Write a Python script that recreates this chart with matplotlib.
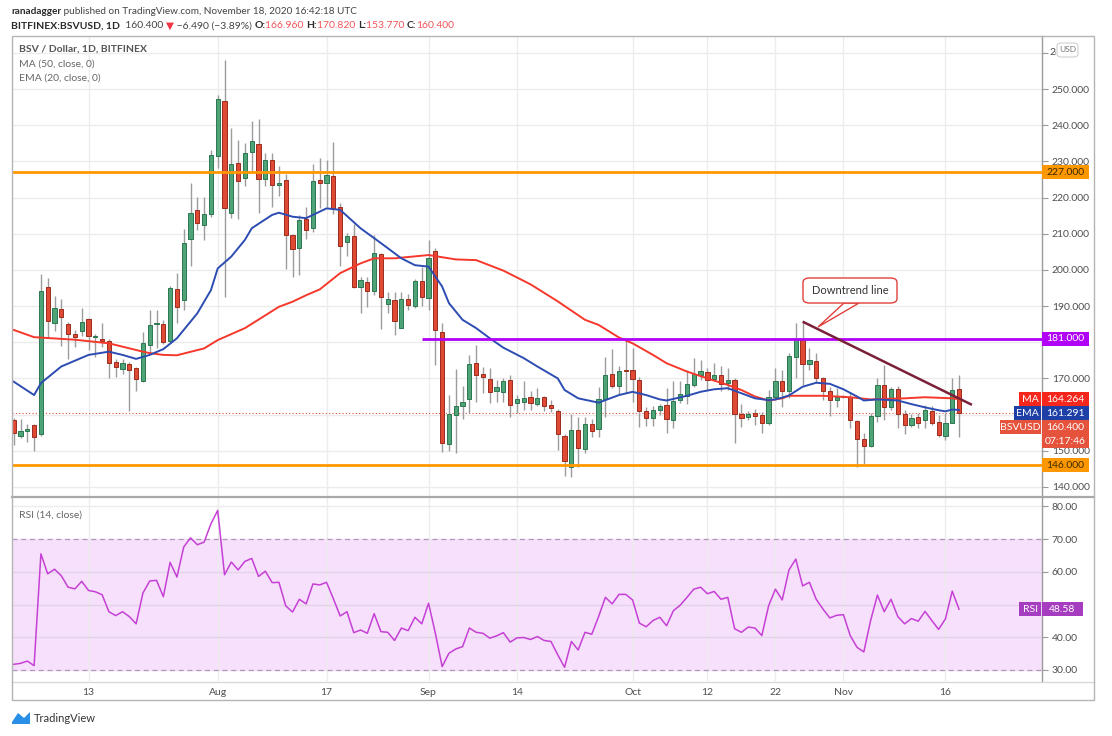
import numpy as np
import pandas as pd
import matplotlib
matplotlib.use("Agg")
import matplotlib.pyplot as plt
from matplotlib.patches import Rectangle, FancyBboxPatch, Polygon
from matplotlib.lines import Line2D
from matplotlib.transforms import Bbox

plt.rcParams['font.family'] = ['Lato', 'DejaVu Sans']

# ---------------- data ----------------
start_date = '2020-07-02'
opens = [158.5,154.2,155.6,157.1,154.6,195.2,185.2,189.1,185.1,182.2,
         183.0,186.4,181.4,181.0,180.4,174.5,172.5,174.0,172.9,169.3,
         179.2,185.0,185.1,180.4,194.6,191.7,208.5,216.5,212.4,215.4,
         231.5,246.8,215.8,229.6,225.5,232.6,234.7,225.0,230.4,223.5,
         224.9,209.6,206.0,214.0,211.5,224.9,224.0,226.0,217.3,207.6,
         209.5,195.4,196.7,194.2,204.3,190.5,191.7,184.0,192.0,190.1,
         196.9,192.3,205.2,182.9,151.9,159.9,162.5,164.2,174.2,171.1,
         169.9,166.6,166.2,169.6,163.1,163.6,164.8,162.9,164.8,162.7,
         161.1,154.1,145.6,155.8,150.4,157.3,155.9,164.2,171.2,167.9,
         172.1,172.3,169.6,161.1,159.0,161.3,162.7,158.5,163.9,165.2,
         168.2,171.0,171.9,169.8,171.0,168.7,169.6,160.2,159.4,160.4,
         159.9,157.6,165.0,169.4,166.6,175.8,180.9,173.9,174.9,170.0,
         166.6,163.9,164.8,165.0,158.3,153.2,151.4,159.7,168.2,162.0,
         167.0,160.2,157.1,159.4,158.5,161.0,157.9,154.1,157.8,166.96]
highs = [159.0,158.7,157.4,157.5,198.8,197.7,192.8,192.0,185.5,183.4,
         189.4,186.8,182.3,185.2,181.0,175.3,175.5,174.5,173.2,182.8,
         189.0,189.0,186.2,195.5,199.2,211.2,224.0,220.2,220.2,233.1,
         248.3,258.0,239.2,236.0,235.1,241.2,241.6,232.2,232.2,228.7,
         226.5,210.0,215.2,217.5,229.4,231.0,230.5,235.4,218.6,210.2,
         212.7,198.0,198.1,209.7,204.8,194.0,194.0,194.0,193.3,197.5,
         200.9,208.3,206.0,185.2,165.4,172.5,167.8,176.5,179.2,173.1,
         172.8,169.6,170.2,171.0,165.4,169.4,166.6,167.3,165.1,164.1,
         161.5,154.5,160.1,159.4,159.2,158.8,167.7,176.0,178.1,173.5,
         180.8,178.3,170.5,162.0,162.5,163.0,167.3,169.3,169.2,172.3,
         175.7,175.1,172.8,174.2,173.4,172.8,170.0,163.0,161.0,161.6,
         160.8,166.8,172.8,172.2,177.0,185.2,185.7,178.3,177.1,170.5,
         167.6,167.3,165.5,166.2,158.5,155.0,160.4,170.0,173.7,167.7,
         168.0,161.3,160.2,160.4,162.7,162.4,159.9,160.5,170.0,170.82]
lows = [151.6,153.6,152.5,150.0,154.0,181.4,183.2,179.0,175.3,178.6,
        181.7,177.9,176.0,178.6,170.0,170.5,171.3,161.1,166.5,169.0,
        176.8,178.5,179.5,179.8,185.4,188.9,201.1,211.0,208.3,214.5,
        228.1,192.4,214.3,214.1,223.1,226.8,215.8,223.1,217.3,220.3,
        200.2,197.9,198.6,208.5,210.5,217.0,217.5,215.5,201.1,203.8,
        194.9,188.0,189.8,193.1,183.6,188.0,182.0,183.9,188.9,189.5,
        190.1,188.9,173.6,149.8,150.0,149.5,158.7,160.5,163.6,165.9,
        163.3,163.6,163.6,159.4,160.4,161.3,161.3,162.5,161.1,160.8,
        150.2,143.0,142.8,145.6,149.5,153.9,153.9,159.4,167.3,165.5,
        165.9,163.6,156.5,156.9,156.9,160.0,154.8,156.2,163.2,162.9,
        167.6,169.6,166.8,169.3,166.6,166.8,152.2,156.7,158.5,157.1,
        155.0,157.0,164.0,162.2,164.5,170.0,168.2,172.3,169.1,163.9,
        159.6,162.0,164.5,156.2,145.6,146.4,151.0,158.0,158.5,161.3,
        156.2,154.6,156.5,156.2,156.2,157.1,153.9,153.0,157.6,153.77]
closes = [155.0,155.5,155.9,153.7,194.2,185.9,189.4,186.9,182.3,181.5,
          185.6,181.7,181.7,180.4,174.4,173.1,174.2,172.3,169.9,179.7,
          184.7,185.3,180.0,194.9,189.8,207.3,215.7,212.9,215.4,231.8,
          247.2,217.0,229.3,224.7,232.2,235.6,225.0,230.4,223.5,224.1,
          209.7,205.7,213.8,211.0,224.7,224.0,226.2,216.7,206.6,209.5,
          195.4,197.2,194.2,204.6,192.6,191.9,185.9,192.0,190.3,196.9,
          192.6,203.4,183.4,152.2,160.1,162.4,163.4,174.0,171.0,170.3,
          166.2,167.6,169.3,162.7,164.3,164.5,163.3,164.5,162.5,161.9,
          154.6,147.3,155.8,150.7,157.3,155.5,164.3,171.0,168.0,172.1,
          172.0,169.8,161.0,159.0,161.3,162.4,158.7,163.8,165.6,168.4,
          171.2,172.1,169.6,171.0,168.5,169.6,160.1,159.0,160.2,159.6,
          157.6,164.8,169.4,166.6,176.3,180.9,173.9,175.1,170.2,166.6,
          163.9,164.8,165.0,158.5,153.3,151.4,159.7,168.2,162.2,167.0,
          160.2,157.1,159.0,157.8,161.3,157.8,154.4,157.8,166.89,160.4]

ema_days = [0,3,4,7,11,14,16,18,20,22,24,27,29,30,32,34,35,38,39,41,43,46,48,51,54,57,59,61,63,64,
            66,68,70,72,75,77,80,81,83,86,87,89,91,93,95,96,99,101,103,105,107,109,111,112,113,114,116,118,120,122,
            124,125,127,130,132,134,136,137,138,139]
ema_vals = [169.1,165.4,168.7,173.3,176.5,177.4,176.5,175.4,176.5,178.1,181.1,188.0,194.4,200.4,203.7,208.3,211.5,215.2,215.8,214.7,
            214.3,217.0,216.6,211.5,207.4,203.2,201.3,200.9,195.4,190.8,186.2,183.9,181.1,178.5,175.6,173.3,170.0,166.8,164.5,163.3,
            164.0,165.4,166.3,165.4,164.2,163.9,165.2,166.3,167.0,167.3,165.9,164.5,164.0,164.2,164.7,165.3,167.7,168.8,168.5,167.0,
            165.0,163.9,164.2,163.9,162.9,162.0,161.2,160.9,161.4,161.291]
ma_days = [0,3,9,14,19,20,22,24,28,30,34,39,41,43,45,48,51,53,56,61,62,65,68,72,76,80,84,86,89,91,
           94,96,99,102,105,107,109,111,113,114,119,123,126,131,134,138,139]
ma_vals = [183.4,181.4,180.7,179.7,177.4,177.0,176.5,176.4,178.3,180.6,183.9,189.8,191.2,193.0,194.6,199.1,201.8,203.2,203.2,204.1,
           203.8,202.9,202.7,199.8,196.0,191.3,186.2,184.8,181.3,179.7,176.5,174.2,171.9,170.0,168.2,166.8,165.0,163.9,164.5,165.2,
           165.2,164.8,164.2,164.5,164.8,164.5,164.264]
rsi_vals = [31.7,32.0,32.7,31.3,65.5,59.4,60.8,58.8,55.3,54.8,
            57.1,54.3,53.9,53.0,47.8,46.6,47.8,46.3,44.1,53.5,
            57.2,57.4,52.4,62.9,58.4,67.6,70.4,68.3,69.1,74.7,
            78.8,59.1,63.0,60.6,63.2,64.1,58.6,60.2,56.7,56.8,
            49.6,47.7,51.6,50.2,56.3,56.0,56.8,51.8,46.5,47.8,
            41.4,42.2,41.2,47.2,41.7,41.5,39.0,42.8,42.0,46.1,
            44.1,50.4,41.2,31.0,35.1,36.4,37.1,42.8,41.5,41.2,
            39.7,40.4,41.4,38.5,39.8,39.9,39.3,40.2,39.0,38.7,
            34.6,30.8,38.7,36.1,41.5,40.9,46.3,52.2,50.2,53.1,
            53.1,51.4,44.3,43.2,45.1,46.1,43.5,48.1,49.8,52.2,
            54.7,55.3,53.3,54.0,51.6,52.2,42.6,41.5,43.1,42.8,
            40.5,49.6,54.7,51.4,60.6,63.9,55.7,56.8,51.6,48.6,
            45.9,46.7,46.9,40.5,36.9,35.5,45.1,52.9,47.8,51.6,
            46.3,44.1,45.7,44.9,47.9,45.1,42.4,45.6,54.1,48.58]

tick_dates = ['2020-07-13', '2020-08-01', '2020-08-17', '2020-09-01', '2020-09-14',
              '2020-10-01', '2020-10-12', '2020-10-22', '2020-11-01', '2020-11-16']
tick_labels = ['13', 'Aug', '17', 'Sep', '14', 'Oct', '12', '22', 'Nov', '16']
price_ticks = list(range(140, 261, 10))
hidden_price_labels = [160, 180, 260]   # covered by price tags / the USD box
rsi_ticks = [30, 40, 50, 60, 70, 80]
hidden_rsi_labels = [50]                # covered by the RSI tag
level_prices = [227.0, 181.0, 146.0]
level_colors = ['#ff9800', '#b000f7', '#ff9800']
level_text_colors = ['#3a2a00', '#ffffff', '#3a2a00']
level_start_days = [None, 60, None]
trend_days = [116, 140.9]
trend_prices = [185.7, 162.7]
last_close = closes[-1]
ma_last = ma_vals[-1]
ema_last = ema_vals[-1]
rsi_last = rsi_vals[-1]
countdown = '07:17:46'

# ---------------- figure ----------------
W, H = 1112, 736
fig = plt.figure(figsize=(W / 100, H / 100), dpi=100, facecolor='white')


def fx(px):
    return px / W


def fy(py):
    return 1 - py / H


UP, UP_E = '#4ea477', '#2b7650'
DN, DN_E = '#e04a34', '#9a2c1d'
MA_C, EMA_C = '#f5382b', '#2c4cb2'
RSI_C = '#c640d6'
GRID = '#ececec'
AXIS_C = '#9a9a9a'
LABEL_C = '#4e4e4e'

X0, X1 = 12, 1042
ax = fig.add_axes([fx(X0), fy(496), fx(X1) - fx(X0), fy(36) - fy(496)])
axr = fig.add_axes([fx(X0), fy(681), fx(X1) - fx(X0), fy(497) - fy(681)])

n = len(opens)
x = np.arange(n)
o, h, l, c = (np.array(v) for v in (opens, highs, lows, closes))
tick_pos = (pd.to_datetime(tick_dates) - pd.Timestamp(start_date)).days.values

for a in (ax, axr):
    a.set_xlim(-0.25, 151.2)
    for s in ('left', 'top', 'bottom'):
        a.spines[s].set_visible(False)
    a.spines['right'].set_color(AXIS_C)
    a.spines['right'].set_linewidth(1)
    a.yaxis.tick_right()
    a.tick_params(axis='y', length=4, color=AXIS_C, labelcolor=LABEL_C, labelsize=7.5, pad=3)
    a.set_xticks(tick_pos)
    for tp in tick_pos:
        a.axvline(tp, color=GRID, lw=1, zorder=0.5)

ax.set_ylim(137.5, 264.65)
axr.set_ylim(26.6, 82.9)

ax.set_yticks(price_ticks)
ax.set_yticklabels(['' if v in hidden_price_labels else f'{v:.3f}' for v in price_ticks])
for v in price_ticks:
    ax.axhline(v, color=GRID, lw=1, zorder=0.5)
ax.tick_params(axis='x', length=0, labelbottom=False)

axr.set_yticks(rsi_ticks)
axr.set_yticklabels(['' if v in hidden_rsi_labels else f'{v:.2f}' for v in rsi_ticks])
axr.set_xticklabels(tick_labels)
axr.tick_params(axis='x', length=0, labelsize=7.5, labelcolor=LABEL_C, pad=5)

# candles
ax.vlines(x, l, h, color='#9c9c9c', lw=1, zorder=3)
up = c >= o
bottom = np.minimum(o, c)
height = np.maximum(np.abs(c - o), 0.35)
ax.bar(x[up], height[up], bottom=bottom[up], width=0.62, color=UP, edgecolor=UP_E, lw=0.7, zorder=4)
ax.bar(x[~up], height[~up], bottom=bottom[~up], width=0.62, color=DN, edgecolor=DN_E, lw=0.7, zorder=4)

# indicators
ax.plot(ma_days, ma_vals, color=MA_C, lw=1.4, zorder=5)
ax.plot(ema_days, ema_vals, color=EMA_C, lw=1.4, zorder=5)

# horizontal levels
xmax = ax.get_xlim()[1]
for p, col, sd in zip(level_prices, level_colors, level_start_days):
    xs = ax.get_xlim()[0] if sd is None else sd
    ax.hlines(p, xs, xmax, color=col, lw=2, zorder=6)

# last price dotted line
ax.axhline(last_close, color='#e5533d', lw=0.8, ls=(0, (1, 2)), zorder=2)

# downtrend line
ax.plot(trend_days, trend_prices, color='#7a2039', lw=1.8, zorder=7, solid_capstyle='butt')

# RSI panel
axr.axhspan(30, 70, color='#f6e0fc', zorder=0)
for v in (40, 50, 60, 80):
    axr.axhline(v, color='#e3d4e8' if v != 80 else GRID, lw=1, zorder=0.6)
for v in (30, 70):
    axr.axhline(v, color='#ae97b8', lw=0.9, ls=(0, (4, 3)), zorder=1)
axr.plot(x, rsi_vals, color=RSI_C, lw=1.1, zorder=3)


def py(a, v):
    return H - a.transData.transform((0, v))[1]


def box(x0, x1, yc, bg, hgt=14):
    fig.patches.append(Rectangle((fx(x0), fy(yc + hgt / 2)), fx(x1) - fx(x0), hgt / H,
                                 transform=fig.transFigure, facecolor=bg, edgecolor='none', zorder=10))


def tag(x0, x1, yc, text, bg, fg, fs=7.5, weight='normal'):
    box(x0, x1, yc, bg)
    fig.text(fx((x0 + x1) / 2), fy(yc), text, ha='center', va='center', color=fg,
             fontsize=fs, zorder=11, fontweight=weight)


# frame and separators
fig.patches.append(Rectangle((fx(12), fy(700)), fx(1094) - fx(12), (700 - 36) / H, transform=fig.transFigure,
                             facecolor='none', edgecolor='#b4b4b4', lw=1, zorder=12))
fig.lines.append(Line2D([fx(12), fx(1094)], [fy(496.5), fy(496.5)], transform=fig.transFigure,
                        color='#a8a8a8', lw=1.6, zorder=12))
fig.lines.append(Line2D([fx(12), fx(1094)], [fy(681.5), fy(681.5)], transform=fig.transFigure,
                        color='#d8d8d8', lw=1, zorder=12))

# partially covered top price label (only its left part shows beside the USD box)
t260 = fig.text(fx(1049), fy(py(ax, 260)), f'{260:.3f}', ha='left', va='center', fontsize=7.5, color=LABEL_C)
t260.set_clip_box(Bbox([[1044, 0], [1056, H]]))
t260.set_clip_on(True)

# price tags
for p, col, tc in zip(level_prices, level_colors, level_text_colors):
    tag(1042, 1089, py(ax, p), f'{p:.3f}', col, tc)

y_ma = py(ax, ma_last)
tag(1019, 1041, y_ma, 'MA', '#f5261c', 'white')
tag(1042, 1089, y_ma, f'{ma_last:.3f}', '#f5261c', 'white')
tag(1014, 1041, y_ma + 14, 'EMA', '#1e40a6', 'white')
tag(1042, 1089, y_ma + 14, f'{ema_last:.3f}', '#1e40a6', 'white')
tag(1000, 1041, y_ma + 28, 'BSVUSD', '#e5533d', 'white')
tag(1042, 1089, y_ma + 28, f'{last_close:.3f}', '#e5533d', 'white')
tag(1042, 1089, y_ma + 42, countdown, '#e5533d', 'white')

y_rsi = py(axr, rsi_last)
tag(1019, 1041, y_rsi, 'RSI', '#a63cc0', 'white')
tag(1042, 1083, y_rsi, f'{rsi_last:.2f}', '#a63cc0', 'white')

# USD box
fig.patches.append(FancyBboxPatch((fx(1057), fy(57)), fx(1078) - fx(1057), 14 / H,
                                  boxstyle='round,pad=0,rounding_size=0.004', transform=fig.transFigure,
                                  facecolor='white', edgecolor='#cfcfcf', lw=0.8, zorder=10))
fig.text(fx(1067.5), fy(50), 'USD', ha='center', va='center', fontsize=6, color='#777', zorder=11)

# legend texts
fig.text(fx(19), fy(49), 'BSV / Dollar, 1D, BITFINEX', fontsize=7.5, color='#555', fontweight='bold', va='center')
fig.text(fx(19), fy(64), 'MA (50, close, 0)', fontsize=7.5, color='#666', va='center')
fig.text(fx(19), fy(78), 'EMA (20, close, 0)', fontsize=7.5, color='#666', va='center')
fig.text(fx(19), fy(515), 'RSI (14, close)', fontsize=7.5, color='#666', va='center')

# callout "Downtrend line"
fig.patches.append(Polygon([(fx(818), fy(327)), (fx(844), fy(303)), (fx(859), fy(303))], closed=True,
                           transform=fig.transFigure, facecolor='white', edgecolor='#e0403a', lw=1, zorder=13))
fig.patches.append(FancyBboxPatch((fx(803), fy(303)), fx(897) - fx(803), 25 / H,
                                  boxstyle='round,pad=0,rounding_size=0.006', transform=fig.transFigure,
                                  facecolor='white', edgecolor='#e0403a', lw=1, zorder=14))
fig.text(fx(850), fy(290.5), 'Downtrend line', ha='center', va='center', fontsize=8, color='#333', zorder=15)

# header
renderer = fig.canvas.get_renderer()


def runs(items, x0, yc, fs):
    xp = x0
    for s, col, wt in items:
        t = fig.text(fx(xp), fy(yc), s, fontsize=fs, color=col, fontweight=wt, va='center', ha='left')
        xp += t.get_window_extent(renderer).width


dark = '#2b2b2b'
red = '#f0555a'
runs([('ranadagger', dark, 'bold'),
      (' published on TradingView.com, November 18, 2020 16:42:18 UTC', '#444', 'normal')], 11, 12, 7.2)
chg = closes[-1] - closes[-2]
runs([('BITFINEX:BSVUSD, 1D', dark, 'bold'),
      (f'  {last_close:.3f} ', '#444', 'normal'),
      ('\u25BC', '#f23645', 'normal'),
      (f' \u2212{abs(chg):.3f} (\u2212{abs(chg) / closes[-2] * 100:.2f}%) ', '#444', 'normal'),
      ('O:', dark, 'bold'), (f'{opens[-1]:.3f} ', red, 'normal'),
      ('H:', dark, 'bold'), (f'{highs[-1]:.3f} ', red, 'normal'),
      ('L:', dark, 'bold'), (f'{lows[-1]:.3f} ', red, 'normal'),
      ('C:', dark, 'bold'), (f'{last_close:.3f}', red, 'normal')], 11, 26, 7.5)

# TradingView logo
fig.patches.append(Polygon([(fx(12), fy(722)), (fx(18), fy(713)), (fx(24), fy(718)), (fx(30), fy(712)),
                            (fx(30), fy(724)), (fx(12), fy(724))], closed=True, transform=fig.transFigure,
                           facecolor='#2a8fe6', edgecolor='none'))
fig.text(fx(34), fy(718), 'TradingView', fontsize=8, color='#333', va='center', ha='left')

fig.savefig('out.png', dpi=100, facecolor='white')
